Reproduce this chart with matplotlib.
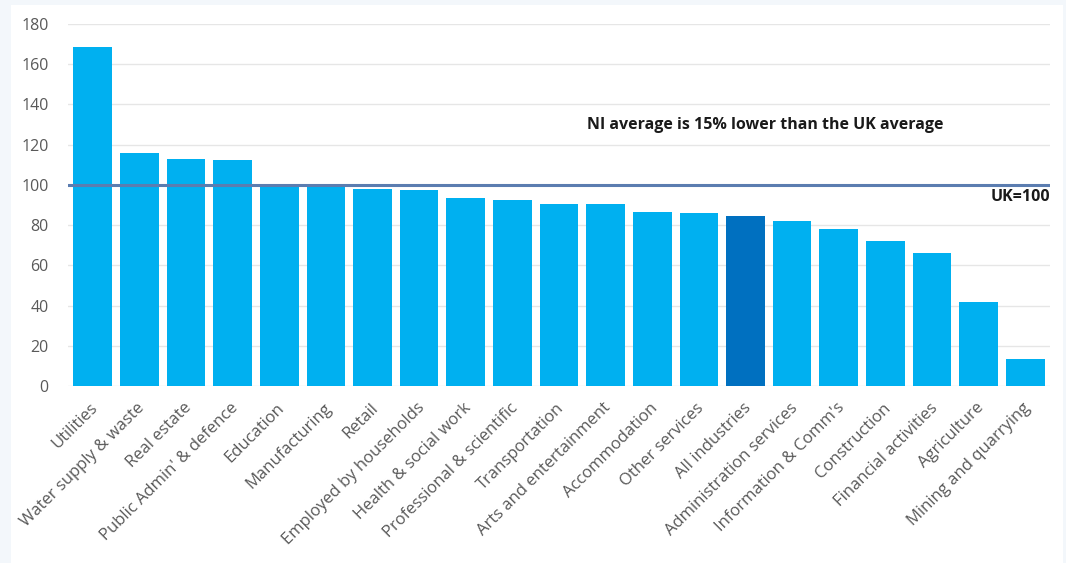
import matplotlib.pyplot as plt
import matplotlib.transforms as mtransforms
from matplotlib.patches import Rectangle
from numpy import arange

industries = ["Utilities", "Water supply & waste", "Real estate", "Public Admin' & defence",
              "Education", "Manufacturing", "Retail", "Employed by households",
              "Health & social work", "Professional & scientific", "Transportation",
              "Arts and entertainment", "Accommodation", "Other services", "All industries",
              "Administration services", "Information & Comm's", "Construction",
              "Financial activities", "Agriculture", "Mining and quarrying"]
index_values = [168.5, 116, 113, 112.5, 100.5, 100, 98, 97.5, 93.5, 92.5, 90.5,
                90.5, 86.5, 86, 84.5, 82, 78, 72, 66, 42, 13.5]
highlight = "All industries"
uk_level = 100

plt.rcParams['font.family'] = ['Open Sans', 'DejaVu Sans']

fig = plt.figure(figsize=(10.66, 5.63), dpi=100)
fig.patch.set_facecolor('#f3f7fb')
# white chart panel behind the axes
panel = Rectangle((11 / 1066, 0), 1052 / 1066, 558 / 563, transform=fig.transFigure,
                  facecolor='white', edgecolor='none', zorder=-10)
fig.add_artist(panel)

ax = fig.add_axes([68 / 1066, 1 - 386 / 563, 982 / 1066, 362 / 563])
ax.set_zorder(1)
ax.set_facecolor('none')

x = arange(len(industries))
colors = ['#0070c0' if n == highlight else '#00b0f0' for n in industries]
ax.bar(x, index_values, width=0.83, color=colors, zorder=2)

ax.axhline(uk_level, color='#5b7db0', linewidth=2.2, zorder=3)

ax.set_ylim(0, 180)
ax.set_xlim(-0.53, len(industries) - 0.47)
ax.set_yticks(range(0, 181, 20))
ax.grid(axis='y', color='#e6e6e6', linewidth=1, zorder=0)
for s in ax.spines.values():
    s.set_visible(False)
ax.tick_params(axis='y', length=0, labelsize=11.5, labelcolor='#595959', pad=14)
ax.tick_params(axis='x', length=0, labelsize=12, labelcolor='#595959', pad=4)
ax.set_xticks(x)
ax.set_xticklabels(industries, rotation=45, ha='right', va='center', rotation_mode='anchor')
offset = mtransforms.ScaledTranslation(0.03, -0.14, fig.dpi_scale_trans)
for lbl in ax.get_xticklabels():
    lbl.set_transform(lbl.get_transform() + offset)

ax.text(0.71, 130, "NI average is 15% lower than the UK average", transform=ax.get_yaxis_transform(),
        ha='center', va='center', fontsize=11.5, fontweight='bold', color='#1a1a1a')
ax.text(1.0, 94, "UK=100", transform=ax.get_yaxis_transform(),
        ha='right', va='center', fontsize=11.5, fontweight='bold', color='#1a1a1a')

fig.savefig("out.png", dpi=100, facecolor=fig.get_facecolor())
